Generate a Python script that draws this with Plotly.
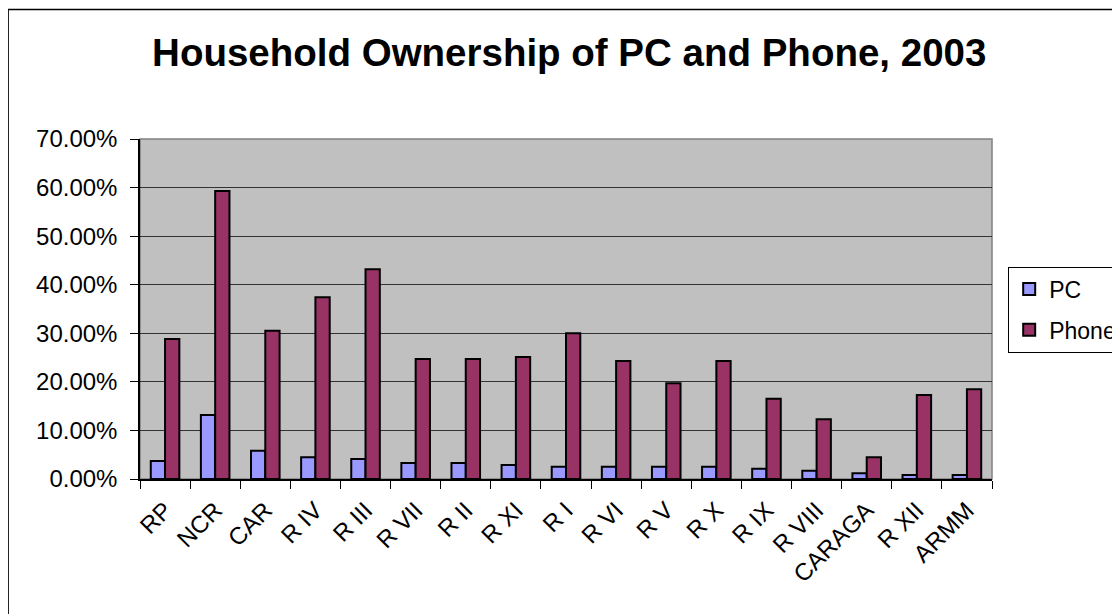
import plotly.graph_objects as go

# regions, ordered as in the source sheet
regions = ["RP", "NCR", "CAR", "R IV", "R III", "R VII", "R II", "R XI", "R I",
           "R VI", "R V", "R X", "R IX", "R VIII", "CARAGA", "R XII", "ARMM"]

# share of households (fraction)
pc_share = [0.037, 0.132, 0.058, 0.045, 0.041, 0.033, 0.033, 0.029, 0.025,
            0.025, 0.025, 0.025, 0.021, 0.017, 0.012, 0.008, 0.008]
phone_share = [0.288, 0.593, 0.305, 0.374, 0.432, 0.247, 0.247, 0.251, 0.300,
               0.243, 0.197, 0.243, 0.165, 0.123, 0.045, 0.173, 0.185]

y_ticks = [0, 0.1, 0.2, 0.3, 0.4, 0.5, 0.6, 0.7]

FONT = "Liberation Sans, Arial, sans-serif"

fig = go.Figure()
fig.add_bar(name="PC", x=regions, y=pc_share, legendgroup="pc",
            marker=dict(color="#9999FF", line=dict(color="black", width=2)))
fig.add_bar(name="Phone", x=regions, y=phone_share, legendgroup="phone",
            marker=dict(color="#993366", line=dict(color="black", width=2)))

# page body has an 8px margin, so the plot box is shifted up/left by 8
fig.update_layout(
    width=1120, height=614,
    barmode="group", bargap=0.43, bargroupgap=0,
    plot_bgcolor="#C0C0C0", paper_bgcolor="white",
    font=dict(family=FONT, size=24, color="black"),
    title=dict(text="<b>Household Ownership of PC and Phone, 2003</b>",
               font=dict(family=FONT, size=38.5, color="black"),
               x=0.5038, xref="paper", xanchor="center",
               y=1 - 45 / 614, yref="container", yanchor="middle"),
    margin=dict(l=131.5, r=136, t=130.5, b=143.3, autoexpand=False),
    showlegend=True,
    legend=dict(x=1.019, y=0.625, xanchor="left", yanchor="top",
                bgcolor="white", bordercolor="black", borderwidth=1,
                font=dict(family=FONT, size=23), tracegroupgap=8),
    # outer chart border and plot-area frame
    shapes=[
        dict(type="rect", xref="paper", yref="paper",
             x0=-0.1548, x1=1.2, y0=-0.5, y1=1.3807,
             line=dict(color="black", width=1.5), layer="above"),
        dict(type="rect", xref="paper", yref="paper",
             x0=0, x1=1, y0=0, y1=1,
             line=dict(color="#808080", width=1.5), layer="below"),
    ],
)

fig.update_xaxes(
    type="category", tickangle=-45, tickson="boundaries",
    ticks="outside", ticklen=8, tickcolor="black", tickwidth=1,
    showline=True, linecolor="black", linewidth=1.5,
    showgrid=False, ticklabelstandoff=6,
)
fig.update_yaxes(
    range=[0, 0.7], tickvals=y_ticks, tickformat=".2%",
    ticks="outside", ticklen=8, tickcolor="black", tickwidth=1,
    showline=True, linecolor="black", linewidth=1.5,
    gridcolor="#333333", gridwidth=1, zeroline=False,
    ticklabelstandoff=8,
)

fig.write_html("out.html")
